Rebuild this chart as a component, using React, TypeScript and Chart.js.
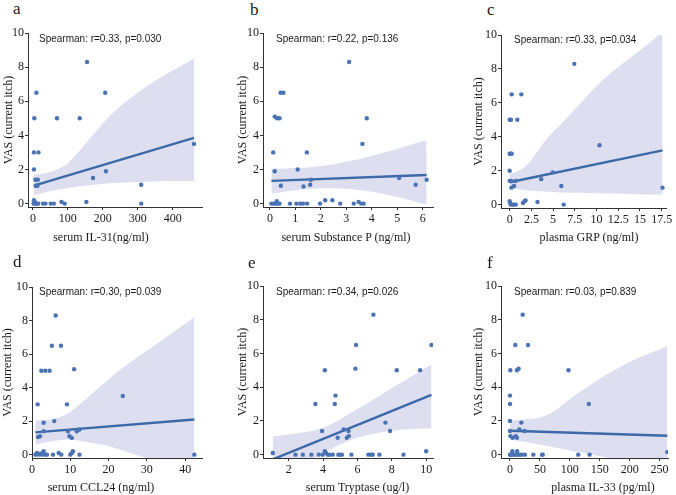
import React, { useEffect, useRef } from "react";
import { Chart, registerables } from "chart.js";

Chart.register(...registerables);

// ---------- data ----------
const yTitle = "VAS (current itch)";
const yTicks = [0, 2, 4, 6, 8, 10];

// a: serum IL-31
const aX = [4, 10, 3, 16, 3, 7, 14, 8, 13, 69, 134, 155, 207, 172, 209, 310, 310, 461, 153, 3, 5, 2, 6, 10, 15, 29, 36, 51, 60, 82, 91, 12];
const aY = [5, 6.5, 3, 3, 2, 1.4, 1.4, 1.05, 1.05, 5, 5, 8.3, 6.5, 1.5, 1.9, 1.1, 0, 3.5, 0.1, 0.2, 0.1, 0, 0, 0, 0, 0, 0, 0, 0, 0.1, 0, 0];
const aLineX = [3, 461];
const aLineY = [1.05, 3.85];
const aBandX = [3, 25, 50, 75, 100, 125, 150, 200, 250, 300, 350, 400, 461];
const aBandUp = [1.7, 1.75, 1.85, 2.05, 2.35, 2.9, 3.5, 4.7, 5.7, 6.5, 7.2, 7.8, 8.5];
const aBandLo = [0.5, 0.6, 0.72, 0.82, 0.9, 0.98, 1.05, 1.15, 1.22, 1.27, 1.3, 1.32, 1.32];
const aTicks = [0, 100, 200, 300, 400];

// b: serum Substance P
const bX = [3.11, 0.42, 0.53, 0.19, 0.28, 0.38, 3.8, 3.63, 0.13, 1.45, 0.19, 1.09, 0.43, 1.32, 1.58, 1.61, 5.07, 5.72, 6.15, 0.06, 0.13, 0.19, 0.25, 0.32, 0.38, 0.27, 0.79, 1.04, 1.19, 1.3, 1.46, 1.97, 2.17, 2.45, 2.76, 3.29, 3.48, 3.58, 3.68];
const bY = [8.3, 6.5, 6.5, 5.1, 5, 5, 5, 3.5, 3, 3, 1.9, 2, 1.05, 1, 1.1, 1.4, 1.5, 1.1, 1.4, 0, 0, 0, 0, 0, 0, 0.14, 0, 0, 0, 0, 0, 0, 0.2, 0.2, 0, 0, 0.1, 0, 0];
const bLineX = [0.06, 6.15];
const bLineY = [1.33, 1.68];
const bBandX = [0.06, 0.5, 1, 1.5, 2, 2.5, 3, 3.5, 4, 4.5, 5, 5.5, 6.15];
const bBandUp = [2.06, 2.05, 2.08, 2.12, 2.2, 2.3, 2.45, 2.6, 2.8, 3.0, 3.2, 3.45, 3.72];
const bBandLo = [0.59, 0.68, 0.78, 0.85, 0.9, 0.9, 0.87, 0.8, 0.7, 0.55, 0.4, 0.2, -0.05];
const bTicks = [0, 1, 2, 3, 4, 5, 6];

// c: plasma GRP
const cX = [7.44, 0.23, 1.34, 0, 0.15, 0.88, 0, 0.12, 0.23, 0, 0, 0.2, 0.2, 0.5, 0.7, 3.63, 4.96, 5.95, 10.34, 17.6, 0, 0.05, 0.12, 0.3, 0.5, 0.7, 1.53, 1.72, 1.83, 3.2, 6.22];
const cY = [8.3, 6.5, 6.5, 5, 5, 5, 3, 3, 3, 2, 1.4, 1.4, 1, 1.1, 1.4, 1.5, 1.9, 1.1, 3.5, 1, 0.2, 0.1, 0, 0, 0, 0, 0.1, 0.2, 0.25, 0.15, 0];
const cLineX = [0, 17.6];
const cLineY = [1.32, 3.2];
const cBandX = [0, 1, 2, 3, 4, 5, 6, 8, 10, 12, 14, 16, 17.6];
const cBandUp = [1.8, 2.0, 2.35, 3.0, 3.7, 4.3, 4.8, 5.9, 7.0, 7.9, 8.7, 9.5, 10.2];
const cBandLo = [0.96, 0.9, 0.85, 0.8, 0.78, 0.75, 0.72, 0.7, 0.67, 0.65, 0.62, 0.6, 0.59];
const cTicks = [0, 2.5, 5, 7.5, 10, 12.5, 15, 17.5];

// d: serum CCL24
const dX = [6.17, 5.2, 7.57, 11, 2.43, 3.48, 4.6, 1.48, 9.13, 5.83, 3.04, 3.04, 9.4, 11.7, 12.4, 1.57, 2.09, 9.8, 10.4, 23.7, 42.4, 0.87, 1.3, 1.74, 2.17, 2.6, 3.04, 3.48, 3.9, 5.48, 6.96, 7.65, 10, 10.4, 10.7, 12.4, 2.8];
const dY = [8.3, 6.5, 6.5, 5.1, 5, 5, 5, 3, 3, 2, 1.9, 1.4, 1.4, 1.4, 1.5, 1.05, 1.1, 1.1, 1, 3.5, 0, 0, 0.1, 0, 0.05, 0, 0.2, 0, 0, 0, 0.1, 0, 0, 0.1, 0.2, 0, 0.1];
const dLineX = [0.87, 42.4];
const dLineY = [1.33, 2.1];
const dBandX = [0.87, 3, 5, 8, 10, 12, 15, 20, 25, 30, 35, 42.4];
const dBandUp = [2.03, 2.05, 2.1, 2.3, 2.55, 2.9, 3.5, 4.5, 5.4, 6.2, 7.0, 8.2];
const dBandLo = [0.6, 0.7, 0.8, 0.88, 0.9, 0.85, 0.72, 0.5, 0.15, -0.2, -0.6, -1.2];
const dTicks = [0, 10, 20, 30, 40];

// e: serum Tryptase
const eX = [6.93, 5.92, 10.31, 4.1, 5.88, 8.29, 9.65, 4.72, 3.55, 4.68, 3.94, 5.2, 5.48, 4.85, 5.38, 5.5, 7.63, 7.9, 10, 1.07, 2.39, 2.82, 3.32, 3.75, 3.98, 4.1, 4.17, 4.27, 4.37, 4.56, 4.89, 4.99, 5.1, 5.65, 6.64, 6.8, 6.89, 7.28, 8.68];
const eY = [8.3, 6.5, 6.5, 5, 5.1, 5, 5, 3.5, 3, 3, 1.4, 1.5, 1.4, 1, 1, 1.1, 1.9, 1.4, 0.2, 0.1, 0, 0, 0, 0, 0, 0.2, 0.1, 0, 0, 0, 0, 0, 0, 0, 0, 0, 0, 0, 0];
const eLineX = [1.07, 10.31];
const eLineY = [-0.28, 3.55];
const eBandX = [1.07, 2, 3, 4, 5, 6, 7, 8, 9, 10.31];
const eBandUp = [1.08, 1.2, 1.35, 1.6, 2.1, 2.7, 3.3, 3.95, 4.55, 5.35];
const eBandLo = [-1.7, -1.15, -0.55, 0.1, 0.6, 1.0, 1.25, 1.42, 1.5, 1.57];
const eTicks = [2, 4, 6, 8, 10];

// f: plasma IL-33
const fX = [21.2, 8.9, 30.1, 0.6, 11.7, 14.5, 97.7, 0, 0, 131.7, 0, 0, 19, 15.6, 24.5, 0.6, 4.5, 9.5, 11.7, 262.8, 0, 1, 3, 6, 9, 12, 14, 17, 20, 25, 39, 53.6, 54.7, 114, 133, 4, 12];
const fY = [8.3, 6.5, 6.5, 5, 5, 5.1, 5, 3.5, 3, 3, 2, 1.4, 1.9, 1.5, 1.4, 1.1, 1, 1.1, 1, 0.15, 0, 0, 0, 0, 0, 0, 0, 0, 0, 0, 0, 0, 0, 0, 0, 0.2, 0.2];
const fLineX = [0, 262.8];
const fLineY = [1.42, 1.12];
const fBandX = [0, 25, 50, 75, 100, 125, 150, 200, 262.8];
const fBandUp = [2.02, 2.1, 2.2, 2.6, 3.3, 3.9, 4.5, 5.5, 6.43];
const fBandLo = [0.88, 0.75, 0.6, 0.42, 0.25, 0.08, -0.1, -0.45, -0.9];
const fTicks = [0, 50, 100, 150, 200, 250];

const letters = ["a", "b", "c", "d", "e", "f"];
const xTitles = [
  "serum IL-31(ng/ml)",
  "serum Substance P (ng/ml)",
  "plasma GRP (ng/ml)",
  "serum CCL24 (ng/ml)",
  "serum Tryptase (ug/l)",
  "plasma IL-33 (pg/ml)",
];
const stats = [
  "Spearman: r=0.33, p=0.030",
  "Spearman: r=0.22, p=0.136",
  "Spearman: r=0.33, p=0.034",
  "Spearman: r=0.30, p=0.039",
  "Spearman: r=0.34, p=0.026",
  "Spearman: r=0.03, p=0.839",
];
const xMins = [-14, -0.27, -1, 0, 0.5, -15];
const xMaxs = [484, 6.4, 18, 44.4, 10.4, 264];
const yMin = -0.2;
const yMax = 10;

// ---------- style / layout ----------
const DOT = "#4a72b4";
const LINE = "#3c69a8";
const BAND = "rgba(200,204,232,0.62)";
const AX = "#333333";
const TXT = "#1a1a1a";
const SERIF = '"Liberation Serif", "Times New Roman", serif';
const SANS = '"Liberation Sans", Arial, sans-serif';

type Box = { cl: number; ct: number; cw: number; ch: number; L: number; R: number; T: number; B: number; yPad: number };
const boxes: Box[] = [
  { cl: 0, ct: 20, cw: 214, ch: 230, L: 28, R: 202, T: 33, B: 207, yPad: 1.3 },
  { cl: 234, ct: 20, cw: 210, ch: 230, L: 263, R: 433, T: 33, B: 207, yPad: 2.1 },
  { cl: 470, ct: 20, cw: 206, ch: 230, L: 501, R: 666, T: 35, B: 208, yPad: 2.1 },
  { cl: 0, ct: 270, cw: 214, ch: 225, L: 32, R: 202, T: 287, B: 458, yPad: 1.1 },
  { cl: 234, ct: 270, cw: 210, ch: 225, L: 263, R: 433, T: 286, B: 458, yPad: 1.5 },
  { cl: 470, ct: 270, cw: 206, ch: 225, L: 501, R: 668, T: 286, B: 458, yPad: 2.1 },
];
const letterPos = [
  [13, 0], [250, 1], [487, 1], [13, 253], [248, 254], [487, 254],
];
const statPos = [
  [39, 39], [276, 39], [514, 40], [39, 292], [276, 292], [514, 292],
];
const xTitlePos = [
  [101, 237], [346, 237], [589, 237], [101, 487], [357.5, 487], [603, 487],
];

const panels = [
  { xs: aX, ys: aY, lx: aLineX, ly: aLineY, bx: aBandX, bu: aBandUp, bl: aBandLo, ticks: aTicks },
  { xs: bX, ys: bY, lx: bLineX, ly: bLineY, bx: bBandX, bu: bBandUp, bl: bBandLo, ticks: bTicks },
  { xs: cX, ys: cY, lx: cLineX, ly: cLineY, bx: cBandX, bu: cBandUp, bl: cBandLo, ticks: cTicks },
  { xs: dX, ys: dY, lx: dLineX, ly: dLineY, bx: dBandX, bu: dBandUp, bl: dBandLo, ticks: dTicks },
  { xs: eX, ys: eY, lx: eLineX, ly: eLineY, bx: eBandX, bu: eBandUp, bl: eBandLo, ticks: eTicks },
  { xs: fX, ys: fY, lx: fLineX, ly: fLineY, bx: fBandX, bu: fBandUp, bl: fBandLo, ticks: fTicks },
];

const pts = (xs: number[], ys: number[]) => xs.map((x, i) => ({ x, y: ys[i] }));

function Panel({ idx }: { idx: number }) {
  const ref = useRef<HTMLCanvasElement | null>(null);
  const box = boxes[idx];
  useEffect(() => {
    if (!ref.current) return;
    const d = panels[idx];
    const tickFont = { family: SERIF, size: 12 };
    const chart = new Chart(ref.current, {
      type: "scatter",
      data: {
        datasets: [
          {
            type: "scatter",
            data: pts(d.xs, d.ys),
            pointRadius: 2.2,
            pointBackgroundColor: DOT,
            pointBorderWidth: 0,
            pointBorderColor: DOT,
            order: 0,
          } as any,
          {
            type: "line",
            data: pts(d.lx, d.ly),
            borderColor: LINE,
            borderWidth: 2.4,
            pointRadius: 0,
            fill: false,
            order: 1,
          } as any,
          {
            type: "line",
            data: pts(d.bx, d.bu),
            borderColor: "rgba(0,0,0,0)",
            borderWidth: 0,
            pointRadius: 0,
            fill: "+1",
            backgroundColor: BAND,
            cubicInterpolationMode: "monotone",
            order: 2,
          } as any,
          {
            type: "line",
            data: pts(d.bx, d.bl),
            borderColor: "rgba(0,0,0,0)",
            borderWidth: 0,
            pointRadius: 0,
            fill: false,
            cubicInterpolationMode: "monotone",
            order: 3,
          } as any,
        ],
      },
      options: {
        animation: false,
        responsive: false,
        events: [],
        layout: {
          padding: { left: 0, top: box.T - box.ct, right: box.cl + box.cw - box.R, bottom: 0 },
        },
        plugins: { legend: { display: false }, tooltip: { enabled: false }, title: { display: false } },
        scales: {
          x: {
            type: "linear",
            min: xMins[idx],
            max: xMaxs[idx],
            border: { display: true, color: AX, width: 1 },
            grid: { display: true, drawOnChartArea: false, drawTicks: true, tickLength: 3, color: AX },
            afterBuildTicks: (s: any) => {
              s.ticks = d.ticks.map((v) => ({ value: v }));
            },
            ticks: {
              autoSkip: false,
              maxRotation: 0,
              padding: 2,
              color: TXT,
              font: tickFont,
              callback: (v: any) => String(v),
            },
            afterFit: (s: any) => {
              s.height = box.ct + box.ch - box.B;
              s.paddingLeft = 0;
              s.paddingRight = 0;
            },
          },
          y: {
            type: "linear",
            min: yMin,
            max: yMax,
            border: { display: true, color: AX, width: 1 },
            grid: { display: true, drawOnChartArea: false, drawTicks: true, tickLength: 3, color: AX },
            afterBuildTicks: (s: any) => {
              s.ticks = yTicks.map((v) => ({ value: v }));
            },
            ticks: {
              autoSkip: false,
              padding: 1,
              color: TXT,
              font: tickFont,
              callback: (v: any) => String(v),
            },
            title: {
              display: true,
              text: yTitle,
              color: TXT,
              font: { family: SERIF, size: 12 },
              padding: { top: box.yPad, bottom: 0 },
            },
            afterFit: (s: any) => {
              s.width = box.L - box.cl;
              s.paddingTop = 0;
              s.paddingBottom = 0;
            },
          },
        },
      } as any,
    });
    return () => chart.destroy();
  }, [idx]);
  return (
    <canvas
      ref={ref}
      width={box.cw}
      height={box.ch}
      style={{ position: "absolute", left: box.cl, top: box.ct, width: box.cw, height: box.ch }}
    />
  );
}

export default function App() {
  return (
    <div
      style={{
        position: "fixed",
        left: 0,
        top: 0,
        width: 676,
        height: 495,
        background: "#fff",
        overflow: "hidden",
      }}
    >
      {letters.map((_, i) => (
        <Panel key={"p" + i} idx={i} />
      ))}
      {letters.map((l, i) => (
        <div
          key={"l" + i}
          style={{
            position: "absolute",
            left: letterPos[i][0],
            top: letterPos[i][1],
            fontFamily: SERIF,
            fontSize: 17,
            lineHeight: "17px",
            color: TXT,
          }}
        >
          {l}
        </div>
      ))}
      {stats.map((s, i) => (
        <div
          key={"s" + i}
          style={{
            position: "absolute",
            left: statPos[i][0],
            top: statPos[i][1] - 6,
            fontFamily: SANS,
            fontSize: 10,
            lineHeight: "12px",
            color: TXT,
            whiteSpace: "nowrap",
          }}
        >
          {s}
        </div>
      ))}
      {xTitles.map((t, i) => (
        <div
          key={"x" + i}
          style={{
            position: "absolute",
            left: xTitlePos[i][0],
            top: xTitlePos[i][1] - 7,
            transform: "translateX(-50%)",
            fontFamily: SERIF,
            fontSize: 12,
            lineHeight: "14px",
            color: TXT,
            whiteSpace: "nowrap",
          }}
        >
          {t}
        </div>
      ))}
    </div>
  );
}
